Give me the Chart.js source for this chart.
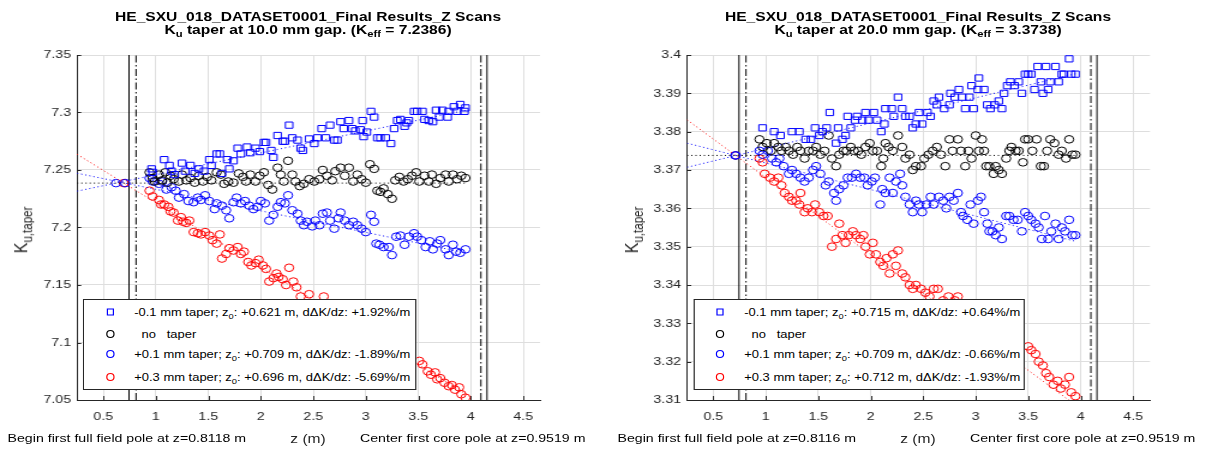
<!DOCTYPE html>
<html><head><meta charset="utf-8">
<script src="https://cdn.jsdelivr.net/npm/chart.js@4.4.0/dist/chart.umd.min.js"></script>
<style>
html,body{margin:0;padding:0;background:#fff;overflow:hidden;width:1206px;height:451px;}
#stage{position:absolute;left:0;top:0;width:1005px;height:451px;transform:scaleX(1.2);transform-origin:0 0;font-family:"Liberation Sans",Arial,sans-serif;}
canvas{position:absolute;top:0;}
.abs{position:absolute;white-space:pre;}
.title{font-weight:bold;font-size:13px;line-height:13px;text-align:center;transform:translateX(-50%);color:#000;top:10px;}
.sb{font-size:0.72em;position:relative;top:0.35em;}
.ylab{font-size:16px;color:#262626;transform:translate(-50%,-50%) rotate(-90deg);line-height:18px;top:230px;}
.xlab{font-size:13px;color:#262626;transform:translateX(-50%);line-height:15px;top:430.5px;}
.note{font-size:11.8px;line-height:14px;top:431px;color:#000;}
.leg{position:absolute;top:299px;height:91px;box-sizing:border-box;border:1px solid #262626;background:#fff;z-index:5;}
.row{position:absolute;left:0;right:0;height:16px;}
.mk{position:absolute;left:21.7px;top:8px;box-sizing:border-box;transform:translate(-50%,-50%);}
.mk.sq{width:6px;height:7px;border:1px solid #0000ff;}
.mk.ci{width:7px;height:8px;border:1px solid;border-radius:50%;}
.lt{position:absolute;left:41.7px;top:0;font-size:10.8px;line-height:16px;color:#000;white-space:pre;}
</style>
</head>
<body>
<div id="stage">
  <canvas id="c1" width="502" height="451" style="left:0px"></canvas>
  <canvas id="c2" width="503" height="451" style="left:502px"></canvas>

  <div class="abs title" style="left:256.7px">HE_SXU_018_DATASET0001_Final Results_Z Scans<br>K<span class="sb">u</span> taper at 10.0 mm gap. (K<span class="sb">eff</span> = 7.2386)</div>
  <div class="abs title" style="left:765px">HE_SXU_018_DATASET0001_Final Results_Z Scans<br>K<span class="sb">u</span> taper at 20.0 mm gap. (K<span class="sb">eff</span> = 3.3738)</div>

  <div class="abs ylab" style="left:18.3px">K<span class="sb">u,taper</span></div>
  <div class="abs ylab" style="left:526.7px">K<span class="sb">u,taper</span></div>

  <div class="abs xlab" style="left:256.7px">z (m)</div>
  <div class="abs xlab" style="left:765px">z (m)</div>

  <div class="abs note" style="left:6.3px">Begin first full field pole at z=0.8118 m</div>
  <div class="abs note" style="left:300px">Center first core pole at z=0.9519 m</div>
  <div class="abs note" style="left:514.6px">Begin first full field pole at z=0.8116 m</div>
  <div class="abs note" style="left:808.3px">Center first core pole at z=0.9519 m</div>

  <div class="leg" id="leg1" style="left:69.2px;width:278.3px"></div>
  <div class="leg" id="leg2" style="left:577.5px;width:276.7px"></div>
</div>
<script>
// ---------- axes ----------
const X_MIN = 0.25, X_MAX = 4.66;
const X_TICKS = [0.5, 1, 1.5, 2, 2.5, 3, 3.5, 4, 4.5];
const X_LABELS = ['0.5', '1', '1.5', '2', '2.5', '3', '3.5', '4', '4.5'];
const Y_TICKS_L = [7.05, 7.1, 7.15, 7.2, 7.25, 7.3, 7.35];
const Y_LABELS_L = ['7.05', '7.1', '7.15', '7.2', '7.25', '7.3', '7.35'];
const Y_TICKS_R = [3.31, 3.32, 3.33, 3.34, 3.35, 3.36, 3.37, 3.38, 3.39, 3.4];
const Y_LABELS_R = ['3.31', '3.32', '3.33', '3.34', '3.35', '3.36', '3.37', '3.38', '3.39', '3.4'];

// vertical reference lines (z positions)
const VL_SOLID = [0.745, 4.155];
const VL_DASHDOT_L = [0.8118, 4.097];
const VL_DASHDOT_R = [0.8116, 4.097];

// ---------- legend labels ----------
const LEG_L = ['-0.1 mm taper; z|0|: +0.621 m, dΔK/dz: +1.92%/m', '  no   taper', '+0.1 mm taper; z|0|: +0.709 m, dΔK/dz: -1.89%/m', '+0.3 mm taper; z|0|: +0.696 m, dΔK/dz: -5.69%/m'];
const LEG_R = ['-0.1 mm taper; z|0|: +0.715 m, dΔK/dz: +0.64%/m', '  no   taper', '+0.1 mm taper; z|0|: +0.709 m, dΔK/dz: -0.66%/m', '+0.3 mm taper; z|0|: +0.712 m, dΔK/dz: -1.93%/m'];

// ---------- 10 mm gap (left) ----------
const KEFF_L = 7.2386;
const Z0_L = [0.621, 0.709, 0.696];   // -0.1, +0.1, +0.3 mm
const FIT_Z = [0.25, 3.95];
const L_FIT_SQ = [7.2316, 7.3019];
const L_FIT_NT = [7.2386, 7.2386];
const L_FIT_P1 = [7.2472, 7.1780];
const L_FIT_P3 = [7.2637, 7.0554];

const L_SQ = [[0.96,7.251],[0.97,7.248],[1.08,7.259],[1.13,7.254],[1.15,7.249],[1.18,7.246],[1.25,7.256],[1.28,7.249],[1.33,7.254],[1.37,7.247],[1.41,7.251],[1.46,7.249],[1.51,7.259],[1.53,7.254],[1.58,7.264],[1.61,7.264],[1.63,7.247],[1.68,7.259],[1.70,7.251],[1.74,7.258],[1.78,7.269],[1.81,7.264],[1.87,7.270],[1.90,7.265],[1.95,7.269],[1.99,7.266],[2.03,7.274],[2.05,7.274],[2.10,7.267],[2.12,7.261],[2.16,7.280],[2.21,7.275],[2.23,7.275],[2.27,7.289],[2.30,7.278],[2.35,7.276],[2.38,7.269],[2.40,7.267],[2.46,7.277],[2.51,7.273],[2.54,7.278],[2.58,7.286],[2.62,7.278],[2.66,7.289],[2.70,7.276],[2.73,7.276],[2.76,7.292],[2.79,7.286],[2.84,7.293],[2.87,7.286],[2.90,7.284],[2.95,7.285],[2.97,7.293],[2.98,7.279],[3.01,7.283],[3.05,7.301],[3.08,7.296],[3.11,7.278],[3.14,7.278],[3.19,7.278],[3.24,7.273],[3.27,7.286],[3.30,7.293],[3.33,7.294],[3.37,7.288],[3.39,7.291],[3.41,7.293],[3.46,7.301],[3.49,7.301],[3.54,7.301],[3.56,7.294],[3.60,7.293],[3.64,7.292],[3.67,7.302],[3.70,7.296],[3.73,7.302],[3.78,7.296],[3.79,7.301],[3.84,7.305],[3.87,7.301],[3.90,7.307],[3.94,7.301],[3.95,7.304]];

const L_NT = [[0.94,7.248],[0.97,7.243],[0.99,7.240],[1.03,7.246],[1.06,7.241],[1.09,7.248],[1.11,7.239],[1.14,7.245],[1.17,7.242],[1.22,7.240],[1.25,7.246],[1.29,7.241],[1.33,7.243],[1.37,7.239],[1.41,7.245],[1.45,7.240],[1.49,7.244],[1.53,7.241],[1.58,7.248],[1.62,7.246],[1.65,7.238],[1.69,7.240],[1.74,7.239],[1.79,7.247],[1.83,7.244],[1.86,7.240],[1.90,7.246],[1.95,7.240],[1.99,7.245],[2.03,7.248],[2.07,7.237],[2.11,7.233],[2.16,7.252],[2.19,7.246],[2.22,7.240],[2.26,7.258],[2.30,7.246],[2.33,7.240],[2.37,7.236],[2.41,7.238],[2.46,7.242],[2.51,7.240],[2.56,7.242],[2.59,7.250],[2.63,7.245],[2.68,7.241],[2.71,7.249],[2.76,7.252],[2.80,7.245],[2.84,7.252],[2.88,7.240],[2.92,7.246],[2.96,7.242],[3.00,7.239],[3.04,7.255],[3.08,7.251],[3.11,7.232],[3.14,7.231],[3.17,7.234],[3.21,7.229],[3.25,7.225],[3.28,7.241],[3.32,7.244],[3.36,7.240],[3.40,7.242],[3.44,7.245],[3.48,7.248],[3.51,7.240],[3.56,7.245],[3.60,7.240],[3.63,7.246],[3.67,7.238],[3.71,7.243],[3.76,7.246],[3.79,7.240],[3.83,7.246],[3.87,7.242],[3.91,7.245],[3.95,7.243]];

const L_P1 = [[0.94,7.243],[0.97,7.240],[1.03,7.238],[1.06,7.240],[1.10,7.233],[1.15,7.235],[1.19,7.232],[1.22,7.226],[1.27,7.229],[1.31,7.223],[1.36,7.222],[1.40,7.226],[1.43,7.224],[1.47,7.228],[1.51,7.223],[1.56,7.216],[1.58,7.221],[1.63,7.219],[1.67,7.215],[1.70,7.208],[1.74,7.222],[1.77,7.226],[1.81,7.221],[1.85,7.223],[1.89,7.219],[1.93,7.216],[1.97,7.218],[2.00,7.223],[2.04,7.221],[2.08,7.206],[2.12,7.211],[2.16,7.218],[2.19,7.222],[2.23,7.221],[2.26,7.228],[2.30,7.215],[2.35,7.212],[2.38,7.206],[2.41,7.202],[2.44,7.205],[2.49,7.201],[2.52,7.206],[2.56,7.202],[2.59,7.212],[2.63,7.213],[2.66,7.206],[2.70,7.199],[2.74,7.208],[2.76,7.213],[2.80,7.206],[2.84,7.202],[2.88,7.205],[2.92,7.202],[2.96,7.199],[3.00,7.196],[3.05,7.211],[3.08,7.205],[3.10,7.186],[3.13,7.185],[3.17,7.183],[3.22,7.183],[3.25,7.176],[3.29,7.192],[3.33,7.193],[3.37,7.185],[3.41,7.192],[3.46,7.195],[3.49,7.192],[3.53,7.189],[3.57,7.183],[3.61,7.188],[3.64,7.181],[3.68,7.186],[3.71,7.189],[3.76,7.181],[3.79,7.176],[3.83,7.185],[3.86,7.179],[3.90,7.178],[3.95,7.181]];

const L_P3 = [[0.94,7.232],[0.97,7.227],[1.03,7.224],[1.05,7.220],[1.08,7.220],[1.12,7.218],[1.14,7.214],[1.17,7.213],[1.21,7.206],[1.24,7.209],[1.26,7.205],[1.29,7.204],[1.32,7.206],[1.36,7.196],[1.40,7.195],[1.43,7.194],[1.47,7.196],[1.51,7.193],[1.54,7.189],[1.58,7.186],[1.61,7.194],[1.63,7.173],[1.67,7.177],[1.70,7.182],[1.74,7.180],[1.78,7.183],[1.81,7.177],[1.84,7.179],[1.88,7.170],[1.91,7.167],[1.95,7.169],[1.98,7.172],[2.02,7.167],[2.05,7.164],[2.08,7.153],[2.12,7.156],[2.15,7.160],[2.17,7.157],[2.21,7.155],[2.24,7.150],[2.27,7.165],[2.31,7.153],[2.34,7.148],[2.38,7.140],[2.46,7.142],[2.60,7.140],[3.51,7.084],[3.54,7.081],[3.59,7.075],[3.62,7.072],[3.66,7.074],[3.68,7.068],[3.71,7.069],[3.75,7.065],[3.79,7.062],[3.82,7.063],[3.85,7.059],[3.89,7.061],[3.91,7.055],[3.95,7.052]];

// ---------- 20 mm gap (right) ----------
const KEFF_R = 3.3738;
const Z0_R = [0.715, 0.709, 0.712];
const R_FIT_SQ = [3.3707, 3.3951];
const R_FIT_NT = [3.3738, 3.3738];
const R_FIT_P1 = [3.3770, 3.3514];
const R_FIT_P3 = [3.3831, 3.3087];

const R_SQ = [[0.97,3.381],[1.08,3.380],[1.14,3.379],[1.25,3.380],[1.32,3.380],[1.38,3.378],[1.43,3.378],[1.47,3.381],[1.51,3.379],[1.54,3.380],[1.58,3.381],[1.61,3.385],[1.67,3.377],[1.69,3.381],[1.73,3.378],[1.76,3.379],[1.78,3.384],[1.81,3.381],[1.85,3.383],[1.87,3.384],[1.92,3.383],[1.95,3.385],[1.98,3.383],[2.03,3.385],[2.06,3.383],[2.10,3.380],[2.13,3.382],[2.14,3.386],[2.20,3.386],[2.22,3.384],[2.26,3.389],[2.30,3.386],[2.33,3.384],[2.37,3.384],[2.40,3.381],[2.43,3.382],[2.46,3.385],[2.49,3.382],[2.54,3.385],[2.57,3.384],[2.60,3.388],[2.63,3.387],[2.65,3.389],[2.70,3.386],[2.75,3.387],[2.76,3.390],[2.80,3.389],[2.84,3.391],[2.87,3.389],[2.90,3.386],[2.94,3.389],[2.96,3.392],[2.98,3.386],[3.02,3.391],[3.03,3.394],[3.08,3.391],[3.11,3.387],[3.14,3.386],[3.18,3.387],[3.22,3.388],[3.25,3.386],[3.27,3.390],[3.30,3.392],[3.33,3.393],[3.37,3.392],[3.41,3.393],[3.44,3.390],[3.47,3.395],[3.50,3.395],[3.53,3.395],[3.56,3.391],[3.59,3.397],[3.62,3.393],[3.64,3.390],[3.67,3.397],[3.69,3.391],[3.71,3.393],[3.76,3.397],[3.79,3.393],[3.82,3.395],[3.84,3.395],[3.89,3.399],[3.91,3.395],[3.95,3.395]];

const R_NT = [[0.94,3.378],[0.97,3.376],[1.01,3.377],[1.05,3.375],[1.08,3.377],[1.12,3.376],[1.15,3.375],[1.19,3.376],[1.22,3.375],[1.26,3.374],[1.30,3.376],[1.33,3.375],[1.37,3.373],[1.41,3.375],[1.45,3.375],[1.48,3.376],[1.52,3.374],[1.56,3.375],[1.60,3.379],[1.63,3.373],[1.67,3.371],[1.70,3.374],[1.74,3.375],[1.77,3.375],[1.81,3.376],[1.84,3.375],[1.88,3.375],[1.91,3.374],[1.95,3.376],[1.99,3.377],[2.02,3.375],[2.06,3.375],[2.10,3.371],[2.12,3.373],[2.14,3.377],[2.17,3.376],[2.21,3.375],[2.26,3.379],[2.30,3.376],[2.33,3.373],[2.37,3.374],[2.40,3.370],[2.43,3.371],[2.48,3.371],[2.51,3.373],[2.55,3.374],[2.59,3.375],[2.63,3.376],[2.67,3.374],[2.71,3.371],[2.75,3.378],[2.78,3.375],[2.83,3.378],[2.86,3.375],[2.90,3.371],[2.93,3.375],[2.96,3.373],[3.00,3.379],[3.03,3.375],[3.06,3.378],[3.08,3.375],[3.10,3.371],[3.13,3.371],[3.17,3.369],[3.19,3.371],[3.22,3.370],[3.25,3.369],[3.29,3.373],[3.32,3.375],[3.34,3.376],[3.38,3.375],[3.41,3.375],[3.45,3.372],[3.47,3.378],[3.50,3.378],[3.54,3.375],[3.58,3.378],[3.62,3.371],[3.65,3.371],[3.68,3.375],[3.71,3.378],[3.75,3.377],[3.79,3.374],[3.82,3.375],[3.86,3.373],[3.89,3.378],[3.92,3.374],[3.95,3.374]];

const R_P1 = [[0.94,3.375],[0.97,3.374],[1.02,3.375],[1.06,3.373],[1.10,3.372],[1.13,3.373],[1.17,3.371],[1.22,3.369],[1.25,3.370],[1.29,3.369],[1.33,3.368],[1.37,3.367],[1.41,3.368],[1.45,3.370],[1.48,3.371],[1.52,3.369],[1.57,3.366],[1.60,3.367],[1.65,3.364],[1.67,3.362],[1.70,3.365],[1.74,3.366],[1.78,3.368],[1.82,3.368],[1.86,3.369],[1.90,3.368],[1.94,3.368],[1.97,3.366],[2.01,3.367],[2.04,3.368],[2.09,3.361],[2.11,3.365],[2.14,3.364],[2.18,3.368],[2.21,3.364],[2.24,3.367],[2.28,3.369],[2.30,3.366],[2.33,3.363],[2.37,3.361],[2.40,3.359],[2.43,3.362],[2.46,3.361],[2.49,3.359],[2.53,3.361],[2.57,3.363],[2.60,3.361],[2.65,3.363],[2.69,3.362],[2.72,3.360],[2.75,3.363],[2.79,3.362],[2.83,3.364],[2.86,3.359],[2.88,3.358],[2.92,3.357],[2.95,3.361],[2.98,3.356],[3.02,3.362],[3.05,3.363],[3.08,3.359],[3.11,3.356],[3.13,3.354],[3.16,3.354],[3.19,3.353],[3.22,3.355],[3.25,3.352],[3.29,3.358],[3.32,3.358],[3.36,3.357],[3.40,3.357],[3.44,3.354],[3.47,3.359],[3.50,3.358],[3.53,3.357],[3.57,3.356],[3.60,3.355],[3.63,3.352],[3.66,3.358],[3.69,3.352],[3.72,3.354],[3.76,3.356],[3.79,3.352],[3.82,3.355],[3.85,3.354],[3.89,3.357],[3.92,3.353],[3.95,3.353]];

const R_P3 = [[0.94,3.373],[0.97,3.372],[0.99,3.369],[1.04,3.368],[1.08,3.367],[1.12,3.368],[1.15,3.366],[1.18,3.364],[1.22,3.363],[1.25,3.362],[1.29,3.362],[1.32,3.361],[1.33,3.364],[1.37,3.359],[1.40,3.360],[1.44,3.359],[1.47,3.361],[1.51,3.359],[1.55,3.358],[1.59,3.358],[1.63,3.350],[1.67,3.352],[1.70,3.356],[1.73,3.353],[1.76,3.351],[1.79,3.353],[1.83,3.354],[1.86,3.353],[1.90,3.352],[1.93,3.353],[1.95,3.350],[1.99,3.348],[2.02,3.351],[2.05,3.348],[2.09,3.346],[2.12,3.345],[2.15,3.347],[2.18,3.343],[2.21,3.348],[2.24,3.345],[2.26,3.349],[2.30,3.343],[2.33,3.342],[2.37,3.340],[2.40,3.339],[2.43,3.340],[2.48,3.339],[2.52,3.338],[2.56,3.337],[2.60,3.339],[2.64,3.339],[2.69,3.336],[2.74,3.337],[2.80,3.336],[2.83,3.337],[3.50,3.324],[3.53,3.323],[3.57,3.322],[3.60,3.320],[3.64,3.319],[3.67,3.317],[3.70,3.316],[3.74,3.314],[3.78,3.315],[3.81,3.313],[3.85,3.314],[3.89,3.316],[3.91,3.312],[3.95,3.311]];

// ---------- styles ----------
const BLUE = '#0000ff', RED = '#ff0000', BLACK = '#000000';
const FONT = {family: '"Liberation Sans", Arial, sans-serif', size: 11.8};

const pts = arr => arr.map(p => ({x: p[0], y: p[1]}));
const fit = (ys, color) => ({data: FIT_Z.map((z, i) => ({x: z, y: ys[i]})), showLine: true, pointRadius: 0, borderColor: color, borderWidth: 1, borderDash: [1, 2.5], fill: false});
const vline = (z, y0, y1, dash) => ({data: [{x: z, y: y0}, {x: z, y: y1}], showLine: true, pointRadius: 0, borderColor: '#000', borderWidth: 1, borderDash: dash, fill: false});
const scat = (arr, color, style) => ({data: pts(arr), pointStyle: style, pointRadius: style === 'rect' ? 4.4 : 3.8, pointBorderColor: color, borderColor: color, pointBackgroundColor: 'rgba(0,0,0,0)', backgroundColor: 'rgba(0,0,0,0)', pointBorderWidth: 1, showLine: false});

const inTicks = {
  id: 'inTicks',
  afterDraw(chart) {
    const {ctx, chartArea: a, scales: {x, y}} = chart;
    ctx.save(); ctx.strokeStyle = '#262626'; ctx.lineWidth = 1; ctx.beginPath();
    x.ticks.forEach(t => { const p = Math.round(x.getPixelForValue(t.value)) + 0.5; ctx.moveTo(p, a.bottom); ctx.lineTo(p, a.bottom - 4); });
    y.ticks.forEach(t => { const p = Math.round(y.getPixelForValue(t.value)) + 0.5; ctx.moveTo(a.left, p); ctx.lineTo(a.left + 3.5, p); });
    ctx.stroke(); ctx.restore();
  }
};

function build(id, o) {
  const datasets = [
    fit(o.fitSq, BLUE), fit(o.fitNt, BLACK), fit(o.fitP1, BLUE), fit(o.fitP3, RED),
    scat(o.sq, BLUE, 'rect'), scat(o.nt, BLACK, 'circle'), scat(o.p1, BLUE, 'circle'), scat(o.p3, RED, 'circle'),
    scat([[o.z0[0], o.keff]], BLUE, 'circle'), scat([[o.z0[1], o.keff]], BLUE, 'circle'), scat([[o.z0[2], o.keff]], RED, 'circle'),
    vline(VL_SOLID[0], o.yMin, o.yMax, []), vline(VL_SOLID[1], o.yMin, o.yMax, []),
    vline(o.dd[0], o.yMin, o.yMax, [7, 2.5, 1.5, 2.5]), vline(o.dd[1], o.yMin, o.yMax, [7, 2.5, 1.5, 2.5])
  ];
  new Chart(document.getElementById(id), {
    type: 'scatter',
    data: {datasets},
    plugins: [inTicks],
    options: {
      responsive: false, animation: false, events: [],
      layout: {padding: {left: 0, right: o.padRight, top: 55, bottom: 0}},
      plugins: {legend: {display: false}, tooltip: {enabled: false}, title: {display: false}},
      scales: {
        x: {
          type: 'linear', min: X_MIN, max: X_MAX,
          afterBuildTicks: s => { s.ticks = X_TICKS.map(v => ({value: v})); },
          afterFit: s => { s.height = 51; },
          ticks: {autoSkip: false, maxRotation: 0, padding: 10, color: '#262626', font: FONT, callback: (v, i) => X_LABELS[i]},
          grid: {color: '#dedede', lineWidth: 1, drawTicks: false},
          border: {display: true, color: '#262626', width: 1}
        },
        y: {
          type: 'linear', min: o.yMin, max: o.yMax,
          afterBuildTicks: s => { s.ticks = o.yTicks.map(v => ({value: v})); },
          afterFit: s => { s.width = o.yWidth; },
          ticks: {autoSkip: false, padding: 5, color: '#262626', font: FONT, callback: (v, i) => o.yLabels[i]},
          grid: {color: '#dedede', lineWidth: 1, drawTicks: false},
          border: {display: true, color: '#262626', width: 1}
        }
      }
    }
  });
}

build('c1', {sq: L_SQ, nt: L_NT, p1: L_P1, p3: L_P3, fitSq: L_FIT_SQ, fitNt: L_FIT_NT, fitP1: L_FIT_P1, fitP3: L_FIT_P3,
  z0: Z0_L, keff: KEFF_L, yMin: 7.05, yMax: 7.35, yTicks: Y_TICKS_L, yLabels: Y_LABELS_L, dd: VL_DASHDOT_L, yWidth: 64.2, padRight: 52});
build('c2', {sq: R_SQ, nt: R_NT, p1: R_P1, p3: R_P3, fitSq: R_FIT_SQ, fitNt: R_FIT_NT, fitP1: R_FIT_P1, fitP3: R_FIT_P3,
  z0: Z0_R, keff: KEFF_R, yMin: 3.31, yMax: 3.40, yTicks: Y_TICKS_R, yLabels: Y_LABELS_R, dd: VL_DASHDOT_R, yWidth: 70.5, padRight: 46.7});

// ---------- legends (HTML) ----------
function legend(id, labels) {
  const mk = ['sq', 'ci', 'ci', 'ci'], col = [BLUE, BLACK, BLUE, RED], rowY = [4, 26, 46, 69];
  const el = document.getElementById(id);
  labels.forEach((lab, i) => {
    const row = document.createElement('div'); row.className = 'row'; row.style.top = rowY[i] + 'px';
    const m = document.createElement('div'); m.className = 'mk ' + mk[i]; m.style.borderColor = col[i]; row.appendChild(m);
    const t = document.createElement('div'); t.className = 'lt';
    lab.split('|').forEach((part, j) => {
      if (j % 2 === 1) { const s = document.createElement('span'); s.className = 'sb'; s.textContent = part; t.appendChild(s); }
      else t.appendChild(document.createTextNode(part));
    });
    row.appendChild(t); el.appendChild(row);
  });
}
legend('leg1', LEG_L);
legend('leg2', LEG_R);
</script>
</body></html>
